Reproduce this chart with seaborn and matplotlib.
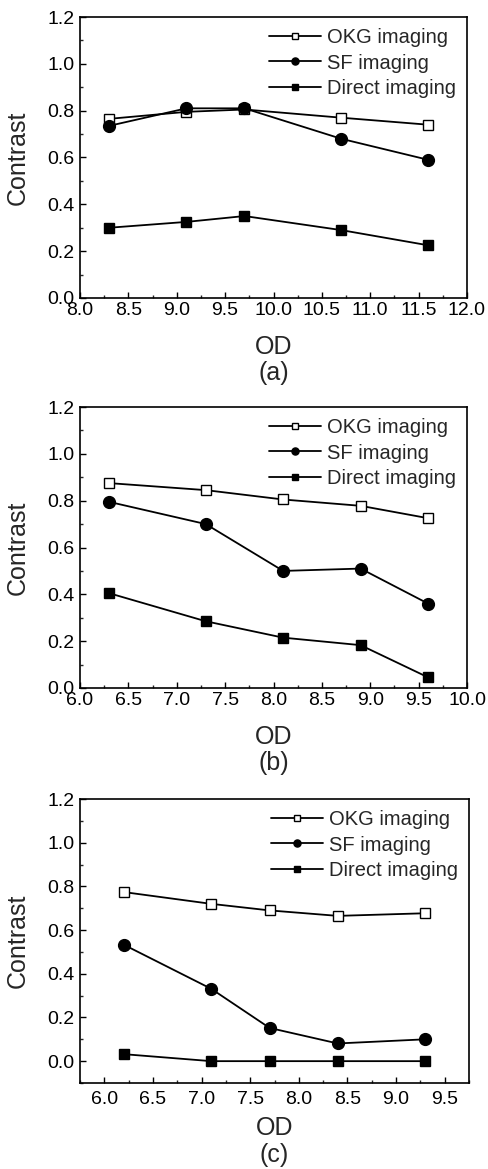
import matplotlib
matplotlib.use("Agg")
import matplotlib.pyplot as plt
import seaborn as sns
import pandas as pd
from matplotlib.ticker import MultipleLocator, FormatStrFormatter

sns.set_style("ticks")
plt.rcParams['font.family'] = ['Liberation Sans', 'DejaVu Sans']

series = ["OKG imaging", "SF imaging", "Direct imaging"]

# panel (a)
od_a = [8.3, 9.1, 9.7, 10.7, 11.6]
okg_a = [0.765, 0.795, 0.805, 0.77, 0.74]
sf_a = [0.735, 0.81, 0.81, 0.68, 0.59]
direct_a = [0.30, 0.325, 0.35, 0.29, 0.225]

# panel (b)
od_b = [6.3, 7.3, 8.1, 8.9, 9.6]
okg_b = [0.875, 0.845, 0.805, 0.778, 0.725]
sf_b = [0.795, 0.70, 0.50, 0.51, 0.36]
direct_b = [0.405, 0.285, 0.215, 0.183, 0.045]

# panel (c)
od_c = [6.2, 7.1, 7.7, 8.4, 9.3]
okg_c = [0.774, 0.72, 0.69, 0.665, 0.677]
sf_c = [0.533, 0.331, 0.152, 0.081, 0.10]
direct_c = [0.032, 0.0, 0.0, 0.0, 0.0]

W, H = 489, 1169
# (tag, x, values, xlim, ylim, axes box in pixels: left, top, right, bottom)
panels = [
    ("(a)", od_a, [okg_a, sf_a, direct_a], (8.0, 12.0), (0.0, 1.2), (80, 17, 467, 298)),
    ("(b)", od_b, [okg_b, sf_b, direct_b], (6.0, 10.0), (0.0, 1.2), (80, 407, 467, 688)),
    ("(c)", od_c, [okg_c, sf_c, direct_c], (5.75, 9.75), (-0.1, 1.2), (80, 799, 469, 1083)),
]

styles = {
    "OKG imaging": dict(marker="s", mfc="white", ms=7.5),
    "SF imaging": dict(marker="o", mfc="black", ms=8.5),
    "Direct imaging": dict(marker="s", mfc="black", ms=7.5),
}

fig = plt.figure(figsize=(W / 100, H / 100), dpi=100)

for tag, od, vals, xlim, ylim, box in panels:
    l, t, r, b = box
    ax = fig.add_axes([l / W, 1 - b / H, (r - l) / W, (b - t) / H])
    hpx = b - t
    df = pd.DataFrame({
        "OD": od * 3,
        "Contrast": vals[0] + vals[1] + vals[2],
        "series": [s for s in series for _ in od],
    })
    for s in series:
        st = styles[s]
        sns.lineplot(data=df[df["series"] == s], x="OD", y="Contrast", ax=ax,
                     color="black", lw=1.3, marker=st["marker"], markersize=st["ms"],
                     markerfacecolor=st["mfc"], markeredgecolor="black",
                     markeredgewidth=1.0, label=s)
    ax.set_xlim(*xlim)
    ax.set_ylim(*ylim)
    ax.xaxis.set_major_locator(MultipleLocator(0.5))
    ax.xaxis.set_minor_locator(MultipleLocator(0.25))
    ax.yaxis.set_major_locator(MultipleLocator(0.2))
    ax.yaxis.set_minor_locator(MultipleLocator(0.1))
    ax.xaxis.set_major_formatter(FormatStrFormatter("%.1f"))
    ax.yaxis.set_major_formatter(FormatStrFormatter("%.1f"))
    ax.tick_params(which="major", direction="in", length=4, width=1,
                   labelsize=14, colors="black")
    ax.tick_params(axis="x", which="major", pad=3 if tag != "(c)" else 6)
    ax.tick_params(axis="y", which="major", pad=4)
    ax.tick_params(which="minor", direction="in", length=2.5, width=1)
    for sp in ax.spines.values():
        sp.set_linewidth(1.2)
        sp.set_color("black")
    ax.set_xlabel("OD", fontsize=18)
    ax.set_ylabel("Contrast", fontsize=18)
    od_off = 49 if tag != "(c)" else 45
    tag_off = 75 if tag != "(c)" else 72
    ax.xaxis.set_label_coords(0.5, -od_off / hpx)
    ax.xaxis.label.set_va("center")
    ax.yaxis.set_label_coords(-50 / (r - l), 0.5)
    ax.legend(loc="upper right", frameon=False, fontsize=14.5, handlelength=2.6,
              markerscale=0.6, borderaxespad=0.15, labelspacing=0.32, handletextpad=0.3)
    ax.text(0.5, -tag_off / hpx, tag, transform=ax.transAxes, ha="center", va="center",
            fontsize=18)

fig.savefig("out.png", dpi=100)
